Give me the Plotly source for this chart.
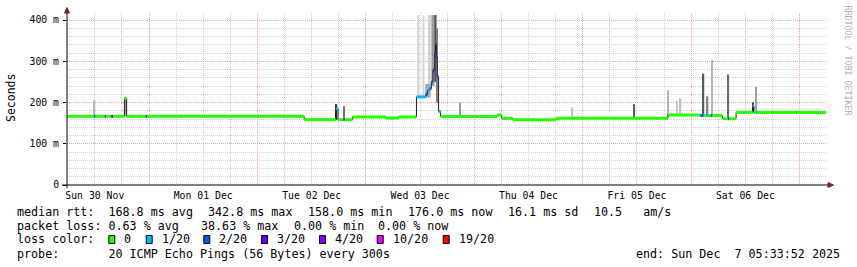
import plotly.graph_objects as go

# ------------------------------------------------------------------ data
# time axis: hours since the start of the 7-day window
WINDOW_H = 168

# median RTT as step segments: start hour, median (ms), lost pings out of 20
seg_start = [0.0, 6.0, 6.25, 8.4, 8.6, 9.8, 10.2, 12.7, 13.2, 17.4, 17.7,
             52.5, 59.5, 60.0, 61.2, 61.45, 63.2, 70.6, 73.4,
             77.35, 79.4, 79.8, 80.3, 80.65, 81.0, 81.4, 81.55, 81.75, 81.95, 82.25, 82.7,
             95.2, 96.2, 98.7, 108.3, 133.0,
             140.2, 140.9, 141.5, 141.9, 142.5, 142.8, 145.1, 146.3, 146.5,
             148.1, 149.7, 149.95, 151.75, 152.05, 152.5, 152.7]
seg_median = [166.4, 166.4, 166.4, 166.4, 166.4, 166.4, 166.4, 210.0, 166.4, 166.4, 166.4,
              158.5, 185.0, 158.5, 158.5, 158.5, 164.8, 162.4, 164.8,
              213.6, 220.0, 230.0, 234.0, 250.0, 279.0, 319.0, 342.8, 311.0, 262.0, 178.0, 166.0,
              169.7, 161.7, 158.3, 161.7, 169.7,
              168.5, 168.5, 168.5, 168.5, 168.5, 168.5, 160.7, 160.7, 160.7,
              176.0, 176.0, 176.0, 192.0, 176.0, 176.0, 176.0]
seg_loss = [0, 2, 0, 3, 0, 4, 0, 0, 0, 3, 0,
            0, 1, 0, 4, 0, 0, 0, 0,
            1, 2, 1, 2, 2, 3, 4, 10, 4, 3, 1, 0,
            0, 0, 0, 0, 0,
            2, 0, 1, 0, 2, 0, 0, 4, 0,
            0, 1, 0, 1, 0, 1, 0]

# "smoke": spread of the individual pings (centre hour, width h, low ms, high ms, shade)
smoke_t = [6.1, 12.95, 59.6, 61.3, 77.8, 78.9, 80.3, 79.9, 81.0, 81.55, 81.95,
           86.9, 111.9, 125.5, 133.1, 135.0, 135.8, 140.9, 141.7, 142.8, 146.4, 151.85, 152.6]
smoke_w = [0.3, 0.5, 0.4, 0.3, 0.4, 0.45, 0.4, 1.2, 0.7, 0.5, 0.3,
           0.25, 0.3, 0.25, 0.3, 0.3, 0.3, 0.3, 0.5, 0.3, 0.3, 0.3, 0.3]
smoke_lo = [166, 166, 158, 158, 214, 216, 230, 212, 240, 250, 200,
            166, 162, 162, 165, 170, 170, 170, 170, 170, 161, 176, 176]
smoke_hi = [206, 214, 196, 191, 412, 412, 412, 245, 412, 412, 380,
            200, 188, 196, 230, 205, 210, 270, 215, 303, 268, 200, 238]
smoke_shade = ["#b4b4b4", "#9a9a9a", "#303030", "#6e6e6e", "#d6d6d6", "#d6d6d6", "#d0d0d0",
               "#a8a8a8", "#9c9c9c", "#505050", "#808080",
               "#9a9a9a", "#c4c4c4", "#5a5a5a", "#b0b0b0", "#c8c8c8", "#c0c0c0",
               "#5a5a5a", "#808080", "#b4b4b4", "#6a6a6a", "#303030", "#a0a0a0"]

# loss colour legend
loss_levels = [0, 1, 2, 3, 4, 10, 19]
loss_labels = ["0", "1/20", "2/20", "3/20", "4/20", "10/20", "19/20"]
loss_colors = ["#26ff00", "#00b8ff", "#0059ff", "#5e00ff", "#7e00ff", "#dd00ff", "#ff0000"]

# axes
day_labels = ["Sun 30 Nov", "Mon 01 Dec", "Tue 02 Dec", "Wed 03 Dec",
              "Thu 04 Dec", "Fri 05 Dec", "Sat 06 Dec"]
day_label_h = [6.15, 30.15, 54.15, 78.15, 102.15, 126.15, 150.15]
midnight_h = [18.15, 42.15, 66.15, 90.15, 114.15, 138.15, 162.15]
y_tickvals = [0, 100, 200, 300, 400]
y_ticktext = ["0", "100 m", "200 m", "300 m", "400 m"]

# legend text
stat_rtt = ["median rtt:  168.8 ms avg", "342.8 ms max", "158.0 ms min",
            "176.0 ms now", "16.1 ms sd", "10.5   am/s"]
stat_loss = ["packet loss: 0.63 % avg", "38.63 % max", "0.00 % min", "0.00 % now"]
probe_text = "probe:       20 ICMP Echo Pings (56 Bytes) every 300s"
end_text = "end: Sun Dec  7 05:33:52 2025"

# ------------------------------------------------------------------ layout helpers
FIG_W, FIG_H = 857, 267
L, R, T, B = 67, 31, 13, 82
PW = FIG_W - L - R
PH = FIG_H - T - B
MONO = "DejaVu Sans Mono"
GRID_RED = "#e8a6a6"
GRID_GREY = "#cfcfcf"
DOT = "1px,1px"


def px(x):
    return (x - L) / PW


def py(y):
    return (FIG_H - B - y) / PH


color_of = dict(zip(loss_levels, loss_colors))
seg_end = seg_start[1:] + [WINDOW_H]

fig = go.Figure()

# smoke (bars are drawn beneath the line traces)
fig.add_trace(go.Bar(
    x=smoke_t, width=smoke_w, base=smoke_lo,
    y=[h - l for h, l in zip(smoke_hi, smoke_lo)],
    marker=dict(color=smoke_shade, line=dict(width=0)),
    hoverinfo="skip", showlegend=False))

# thin dark median line (shows the step edges)
fig.add_trace(go.Scatter(
    x=seg_start + [WINDOW_H], y=seg_median + [seg_median[-1]],
    mode="lines", line=dict(color="#202020", width=1, shape="hv"),
    hoverinfo="skip", showlegend=False))

# median band coloured by loss: horizontal pieces only, one trace per colour
for lvl, col in zip(loss_levels, loss_colors):
    xs, ys = [], []
    for s, e, m, l in zip(seg_start, seg_end, seg_median, seg_loss):
        if l == lvl:
            xs += [s, e, None]
            ys += [m, m, None]
    if xs:
        fig.add_trace(go.Scatter(x=xs, y=ys, mode="lines",
                                 line=dict(color=col, width=3),
                                 hoverinfo="skip", showlegend=False))

# carrier for the label axis
fig.add_trace(go.Scatter(x=day_label_h, y=[None] * len(day_label_h), xaxis="x2",
                         mode="markers", hoverinfo="skip", showlegend=False))

shapes = []
# axes with arrows
shapes.append(dict(type="line", xref="paper", yref="paper", x0=px(62), x1=px(829),
                   y0=0, y1=0, line=dict(color="black", width=1)))
shapes.append(dict(type="line", xref="paper", yref="paper", x0=0, x1=0,
                   y0=py(188), y1=py(12), line=dict(color="black", width=1)))
shapes.append(dict(type="path", xref="paper", yref="paper",
                   path=f"M {px(828)},{py(182.5)} L {px(833.5)},{py(185)} L {px(828)},{py(187.5)} Z",
                   fillcolor="#8b1a1a", line=dict(color="#8b1a1a", width=1)))
shapes.append(dict(type="path", xref="paper", yref="paper",
                   path=f"M {px(64.5)},{py(13)} L {px(67)},{py(7.5)} L {px(69.5)},{py(13)} Z",
                   fillcolor="#8b1a1a", line=dict(color="#8b1a1a", width=1)))

annotations = []


def text(x, y, s, size=11.7, color="black", angle=0, xanchor="left"):
    annotations.append(dict(xref="paper", yref="paper", x=px(x), y=py(y), text=s,
                            showarrow=False, xanchor=xanchor, yanchor="middle",
                            textangle=angle, borderpad=0,
                            font=dict(family=MONO, size=size, color=color)))


rtt_x = [16, 206.7, 306.7, 406.7, 507.3, 593.3]
for x, s in zip(rtt_x, stat_rtt):
    text(x, 211.5, s.replace(" ", "&nbsp;"))
loss_x = [16, 200, 293, 377]
for x, s in zip(loss_x, stat_loss):
    text(x, 225.5, s.replace(" ", "&nbsp;"))
text(16, 239.5, "loss&nbsp;color:")
box_x = [108.3, 145.7, 203.3, 261, 319, 376.7, 442.7]
for bx, lab, col in zip(box_x, loss_labels, loss_colors):
    shapes.append(dict(type="rect", xref="paper", yref="paper",
                       x0=px(bx + 0.5), x1=px(bx + 6.5), y0=py(235.5), y1=py(243.5),
                       fillcolor=col, line=dict(color="black", width=1)))
    text(bx + 15, 239.5, lab)
text(16, 253.5, probe_text.replace(" ", "&nbsp;"))
text(841, 253.5, end_text.replace(" ", "&nbsp;"), xanchor="right")
text(11, 98, "Seconds", size=11.5, angle=-90, xanchor="center")
text(847.5, 60, "RRDTOOL&nbsp;/&nbsp;TOBI&nbsp;OETIKER", size=8.3, color="#b0b0b0",
     angle=90, xanchor="center")

fig.update_layout(
    width=FIG_W, height=FIG_H,
    margin=dict(l=L, r=R, t=T, b=B, pad=0),
    paper_bgcolor="white", plot_bgcolor="white",
    barmode="overlay", showlegend=False,
    shapes=shapes, annotations=annotations,
    xaxis=dict(range=[0, WINDOW_H], tickmode="array", tickvals=midnight_h,
               showticklabels=False, showgrid=True, gridcolor=GRID_RED, griddash=DOT,
               gridwidth=1, zeroline=False, showline=False, ticks="",
               minor=dict(tick0=0.15, dtick=6, showgrid=True, gridcolor=GRID_GREY,
                          griddash=DOT, gridwidth=1, ticks=""),
               fixedrange=True),
    xaxis2=dict(range=[0, WINDOW_H], overlaying="x", anchor="y", side="bottom",
                tickmode="array", tickvals=day_label_h, ticktext=day_labels,
                showgrid=False, zeroline=False, showline=False, ticks="",
                ticklabelstandoff=3,
                tickfont=dict(family=MONO, size=9.8, color="black"),
                fixedrange=True),
    yaxis=dict(range=[0, 417], tickmode="array", tickvals=y_tickvals, ticktext=y_ticktext,
               showgrid=True, gridcolor=GRID_RED, griddash=DOT, gridwidth=1,
               zeroline=False, showline=False, ticks="outside", ticklen=3,
               tickcolor="black", tickwidth=1, ticklabelstandoff=2,
               tickfont=dict(family=MONO, size=9.8, color="black"),
               minor=dict(tick0=0, dtick=20, showgrid=True, gridcolor=GRID_GREY,
                          griddash=DOT, gridwidth=1, ticks=""),
               fixedrange=True),
)

fig.write_html("out.html")
